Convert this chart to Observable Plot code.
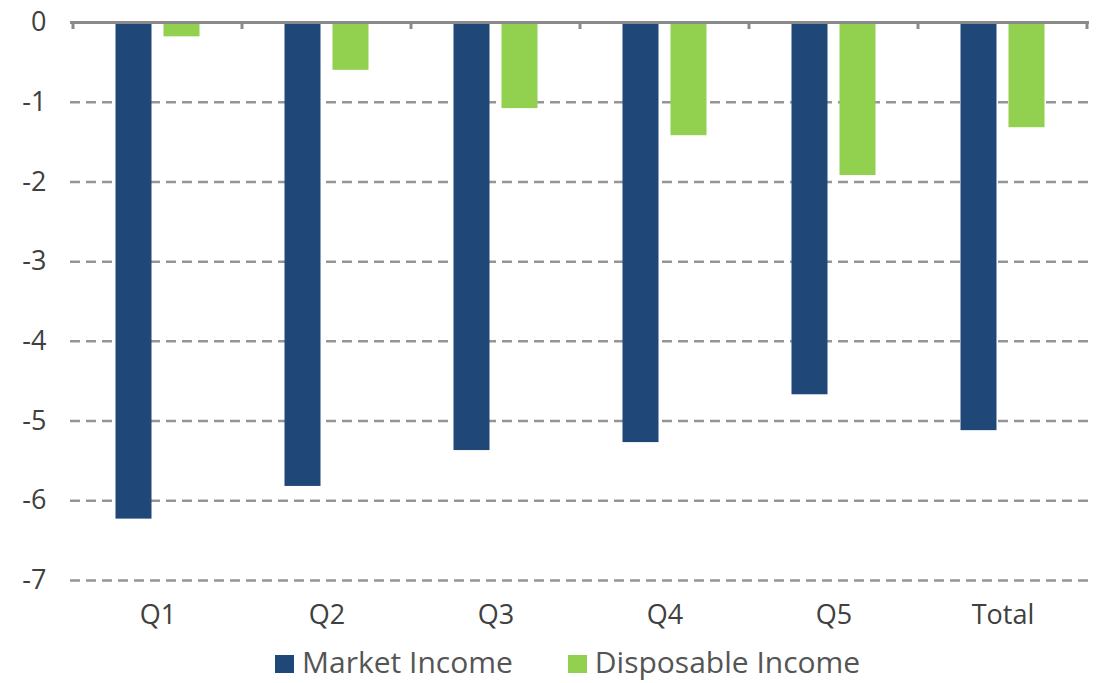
<!DOCTYPE html>
<html>
<head>
<meta charset="utf-8">
<script src="https://cdn.jsdelivr.net/npm/d3@7"></script>
<script src="https://cdn.jsdelivr.net/npm/@observablehq/plot@0.6"></script>
<style>
  html, body { margin: 0; padding: 0; background: #fff; }
  #chart { width: 1102px; }
  .legend { display: flex; align-items: center; height: 43px; padding-left: 275px;
    font-family: "Open Sans", sans-serif; font-size: 30px; color: #555; }
  .legend .item { display: flex; align-items: center; margin-right: 55px; }
  .legend .sw { width: 19px; height: 18px; margin-right: 8px; margin-top: 5px; }
</style>
</head>
<body>
<div id="chart"></div>
<script>
const categories = ["Q1", "Q2", "Q3", "Q4", "Q5", "Total"];
const marketIncome = [-6.23, -5.82, -5.37, -5.27, -4.67, -5.12];
const disposableIncome = [-0.18, -0.60, -1.08, -1.42, -1.92, -1.32];
const yTicks = [0, -1, -2, -3, -4, -5, -6, -7];
const seriesNames = ["Market Income", "Disposable Income"];
const seriesColors = ["#1f4778", "#92d050"];

const data = categories.map((c, i) => ({cat: c, market: marketIncome[i], disposable: disposableIncome[i]}));

const plot = Plot.plot({
  width: 1102,
  height: 640,
  marginTop: 22,
  marginBottom: 60,
  marginLeft: 70,
  marginRight: 13,
  style: {fontFamily: "'Open Sans', sans-serif", fontSize: "27px", color: "#404040", background: "#fff"},
  x: {domain: categories, padding: 0, label: null},
  y: {domain: [-7, 0], label: null},
  marks: [
    Plot.ruleY(yTicks.filter(d => d !== 0), {stroke: "#959595", strokeWidth: 2.5, strokeDasharray: "10,6"}),
    Plot.barY(data, {x: "cat", y1: 0, y2: "market", fill: seriesColors[0], insetLeft: 66.5, insetRight: 66.5, dx: -24}),
    Plot.barY(data, {x: "cat", y1: 0, y2: "disposable", fill: seriesColors[1], insetLeft: 66.5, insetRight: 66.5, dx: 24}),
    Plot.ruleY([0], {stroke: "#8a8a8a", strokeWidth: 3}),
    Plot.axisY({ticks: yTicks, tickSize: 0, tickPadding: 24, tickFormat: d => String(d), fill: "#404040"}),
    Plot.axisX({tickSize: 0, tickPadding: 24, fill: "#404040"})
  ]
});

// boundary ticks on the zero axis, positioned with the plot's own x scale
const xs = plot.scale("x");
const ys = plot.scale("y");
const bw = xs.bandwidth;
const bounds = categories.map(c => xs.apply(c)).concat([xs.apply(categories[categories.length - 1]) + bw]);
const y0 = ys.apply(0);
d3.select(plot).append("g")
  .selectAll("line").data(bounds).join("line")
  .attr("x1", d => d).attr("x2", d => d)
  .attr("y1", y0).attr("y2", y0 + 7)
  .attr("stroke", "#8a8a8a").attr("stroke-width", 3);

document.getElementById("chart").appendChild(plot);

const legend = document.createElement("div");
legend.className = "legend";
seriesNames.forEach((n, i) => {
  const item = document.createElement("div");
  item.className = "item";
  const sw = document.createElement("span");
  sw.className = "sw";
  sw.style.background = seriesColors[i];
  const t = document.createElement("span");
  t.textContent = n;
  item.appendChild(sw);
  item.appendChild(t);
  legend.appendChild(item);
});
document.getElementById("chart").appendChild(legend);
</script>
</body>
</html>
